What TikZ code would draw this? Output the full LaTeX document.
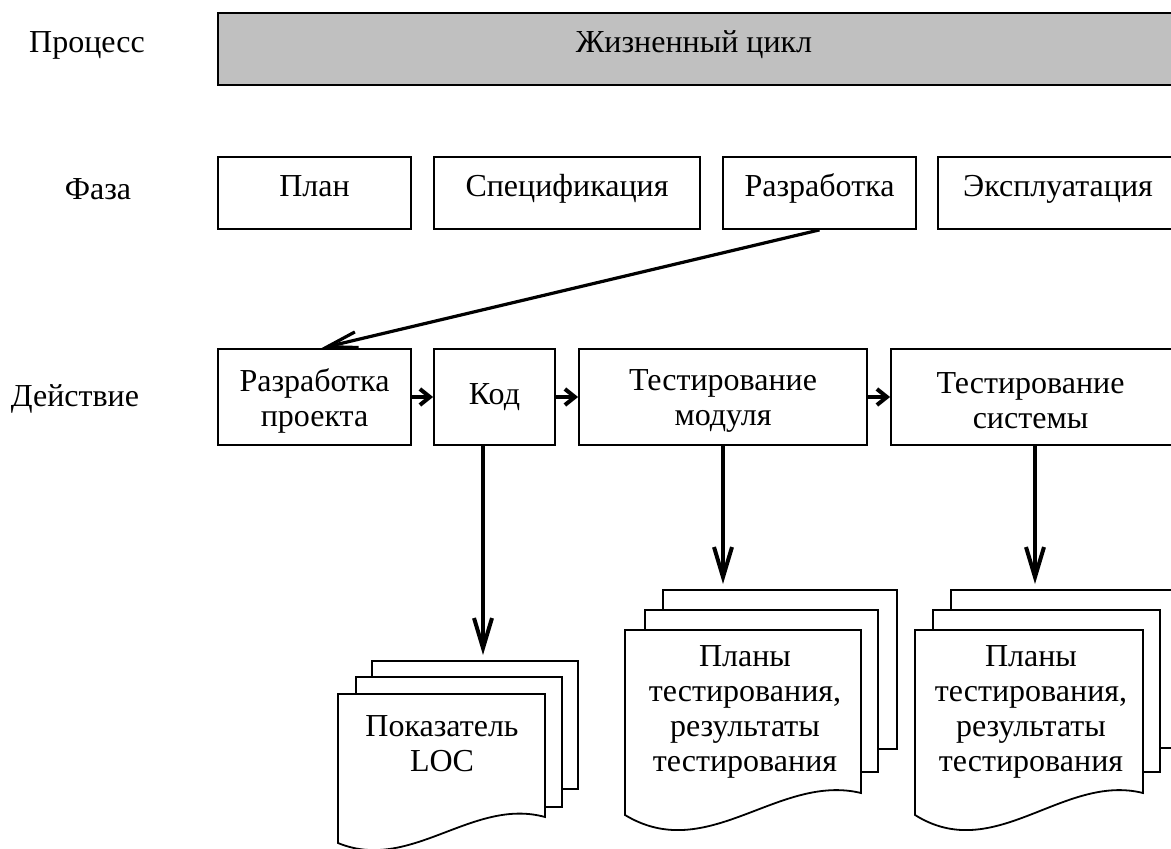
\documentclass[tikz,border=0pt]{standalone}
\usepackage{fontspec}
\setmainfont{Liberation Serif}
\usetikzlibrary{arrows.meta,calc}

% front sheet of a document stack: x0, y0 (top left), x1 (right), left bottom, right bottom, dip
\newcommand\docfront[6]{%
  \draw[sheet] (#1,#2) -- (#3,#2) -- (#3,#5)
    .. controls ({#1+0.65*(#3-#1)},{#5-20}) and ({#1+0.35*(#3-#1)},{#4+#6}) .. (#1,#4) -- cycle;}

\begin{document}
\begin{tikzpicture}[x=0.5pt,y=-0.5pt,
  font=\fontsize{16}{17.5}\selectfont,
  box/.style={draw,line width=0.9pt,fill=white,inner sep=0pt,align=center},
  phasebox/.style={box,minimum height=36pt,text height=11pt,text depth=7pt},
  actbox/.style={box,minimum height=48pt},
  onetext/.style={text height=12pt,text depth=4pt},
  twotext/.style={align=center,yshift=-2pt},
  procbox/.style={draw,line width=1.2pt,fill=procgrey,inner sep=0pt,minimum height=36pt},
  sheet/.style={draw,line width=0.9pt,fill=white},
  rowlabel/.style={inner sep=0pt,anchor=base},
  doctext/.style={align=center,inner sep=0pt},
  arr/.style={line width=2pt,-{Straight Barb[length=15pt,width=9pt]}},
  diagarr/.style={line width=1.6pt,-{Straight Barb[length=15pt,width=8pt]}},
  stepArr/.style={line width=2pt,-{Straight Barb[length=5pt,width=8pt]}}]
\definecolor{procgrey}{RGB}{192,192,192}

\useasboundingbox (0,0) rectangle (1171,849);
\clip (0,0) rectangle (1171,849);

% row captions
\node[rowlabel] (lproc) at (87,53)  {Процесс};
\node[rowlabel] (lphase) at (98,200) {Фаза};
\node[rowlabel] (lact) at (75,407)  {Действие};

% process
\node[procbox,minimum width=480pt,
  label={[xshift=-2pt,text height=11pt,text depth=7pt]center:Жизненный цикл}] (life) at (698,49) {};

% phases
\node[phasebox,minimum width=96.5pt] (plan) at (314.5,193) {План};
\node[phasebox,minimum width=133pt] (spec) at (567,193) {Спецификация};
\node[phasebox,minimum width=96.5pt] (devph) at (819.5,193) {Разработка};
\node[phasebox,minimum width=120pt] (oper) at (1058,193) {Эксплуатация};

% activities
\node[actbox,minimum width=96.5pt,label={[twotext]center:Разработка\\проекта}] (design) at (314.5,397) {};
\node[actbox,onetext,minimum width=60.5pt] (code) at (494.5,397) {Код};
\node[actbox,minimum width=144pt,label={[twotext]center:Тестирование\\модуля}] (utest) at (723,397) {};
\node[actbox,minimum width=143.5pt,label={[twotext,xshift=-2pt]center:Тестирование\\системы}] (stest) at (1034.5,397) {};

% document stacks
\draw[sheet] (372,661) rectangle (578,789);
\draw[sheet] (356,677) rectangle (562,807);
\docfront{338}{694}{545}{843}{817}{30}
\node[doctext] (loc) at (442,744) {Показатель\\LOC};

\draw[sheet] (663,590) rectangle (897,749);
\draw[sheet] (645,610) rectangle (878,772);
\docfront{625}{630}{861}{815}{793}{50}
\node[doctext] (uplans) at (745,712) {Планы\\тестирования,\\результаты\\тестирования};

\draw[sheet] (951,590) rectangle (1185,748);
\draw[sheet] (933,610) rectangle (1160,772);
\docfront{915}{630}{1143}{815}{793}{50}
\node[doctext] (splans) at (1031,712) {Планы\\тестирования,\\результаты\\тестирования};

% arrow ends at the document stacks
\coordinate (locIn) at (483,655);
\coordinate (uIn) at (723,584);
\coordinate (sIn) at (1035,584);

% connectors
\draw[diagarr] (devph.south) -- ([xshift=3.5pt]design.north);
\draw[stepArr] (design.east) -- (code.west);
\draw[stepArr] (code.east) -- (utest.west);
\draw[stepArr] (utest.east) -- (stest.west);
\draw[arr] (code.south -| locIn) -- (locIn);
\draw[arr] (utest.south -| uIn) -- (uIn);
\draw[arr] (stest.south -| sIn) -- (sIn);
\end{tikzpicture}
\end{document}
